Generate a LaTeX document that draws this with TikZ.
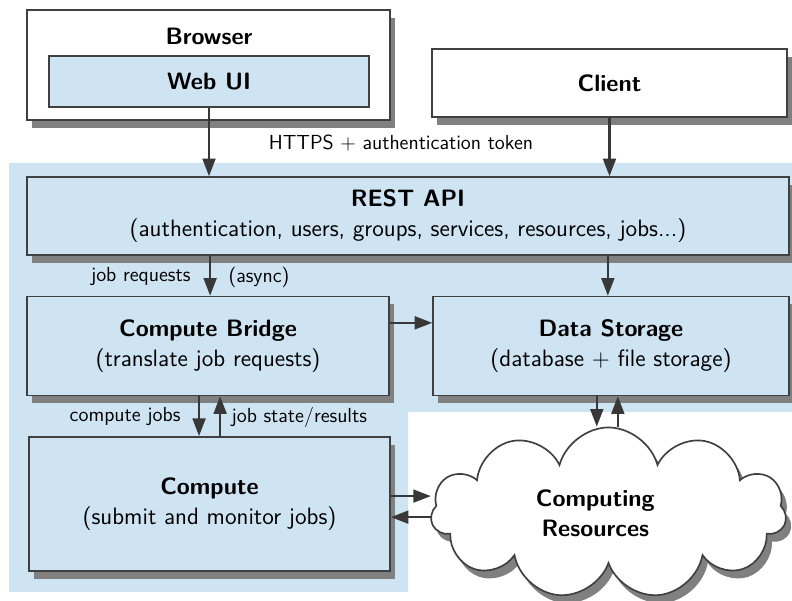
\documentclass[tikz,border=0pt]{standalone}
\usepackage{tikz}
\usetikzlibrary{arrows.meta,shapes.symbols,shadows}
\definecolor{boxblue}{RGB}{207,228,242}
\definecolor{edge}{RGB}{64,64,64}
\definecolor{shade}{RGB}{128,128,128}
\definecolor{arrowgray}{RGB}{56,56,56}

\begin{document}
\begin{tikzpicture}[x=0.019cm,y=-0.019cm,font=\sffamily,
  box/.style={draw=edge,line width=0.9pt,fill=boxblue,align=center,font=\sffamily\fontsize{12.8}{16.2}\selectfont},
  shadowed/.style={drop shadow={shadow xshift=0.1cm,shadow yshift=-0.15cm,fill=shade,opacity=1}},
  arr/.style={draw=arrowgray,line width=1.1pt,-{Triangle[length=9.5pt,width=7pt]}},
  lbl/.style={font=\sffamily\fontsize{11}{13}\selectfont}]
\useasboundingbox (0,0) rectangle (792,601);
% blue backdrop behind the server side
\fill[boxblue] (9,163) -- (792,163) -- (792,412) -- (408,412) -- (408,592) -- (9,592) -- cycle;
% clients
\node[box,fill=white,shadowed,minimum width=6.90cm,minimum height=2.09cm] (browser) at (208.5,65) {};
\node[font=\sffamily\fontsize{12.8}{16.2}\selectfont\bfseries] (browsertitle) at (209,36) {Browser};
\node[box,minimum width=6.08cm,minimum height=0.97cm] (webui) at (209,81.5) {\textbf{Web UI}};
\node[box,fill=white,shadowed,minimum width=6.745cm,minimum height=1.29cm] (client) at (609.5,83) {\textbf{Client}};
% server
\node[box,shadowed,minimum width=14.48cm,minimum height=1.48cm] (rest) at (408,216)
  {\textbf{REST API}\\(authentication, users, groups, services, resources, jobs...)};
\node[box,shadowed,minimum width=6.88cm,minimum height=1.88cm] (bridge) at (208,346)
  {\textbf{Compute Bridge}\\(translate job requests)};
\node[box,shadowed,minimum width=6.76cm,minimum height=1.88cm] (data) at (611,346)
  {\textbf{Data Storage}\\(database + file storage)};
\node[box,shadowed,minimum width=6.86cm,minimum height=2.55cm] (compute) at (209.5,504)
  {\textbf{Compute}\\(submit and monitor jobs)};
\node[cloud,cloud puffs=11,aspect=2.1,draw=edge,line width=0.9pt,fill=white,shadowed,
  minimum width=6.75cm,minimum height=3.25cm,align=center,
  font=\sffamily\fontsize{12.8}{16.2}\selectfont\bfseries] (cloud) at (608.5,513)
  {Computing\hspace*{0.5cm}\\Resources\hspace*{0.5cm}};
% connectors
\draw[arr] (webui.south) -- (webui.south |- rest.north);
\draw[arr] (client.south) -- (client.south |- rest.north);
\node[lbl] (https) at (401,143) {HTTPS + authentication token};
\draw[arr] ([xshift=0.04cm]bridge.north |- rest.south) -- ([xshift=0.04cm]bridge.north);
\node[lbl,anchor=east] (jobreq) at (197,277) {job requests};
\node[lbl,anchor=west] (async) at (222,277) {(async)};
\draw[arr] ([xshift=-0.06cm]data.north |- rest.south) -- ([xshift=-0.06cm]data.north);
\draw[arr] ([yshift=0.44cm]bridge.east) -- ([yshift=0.44cm]bridge.east -| data.west);
\draw[arr] ([xshift=-0.17cm]bridge.south) -- ([xshift=-0.17cm]bridge.south |- compute.north);
\draw[arr] ([xshift=0.23cm]bridge.south |- compute.north) -- ([xshift=0.23cm]bridge.south);
\node[lbl,anchor=east] (cjobs) at (187,417) {compute jobs};
\node[lbl,anchor=west] (jstate) at (225,417) {job state/results};
\draw[arr] ([yshift=0.15cm]compute.east) -- ([yshift=0.15cm]compute.east -| cloud.west);
\draw[arr] ([yshift=-0.25cm]compute.east -| cloud.west) -- ([yshift=-0.25cm]compute.east);
\draw[arr] ([xshift=-0.27cm]data.south) -- ([xshift=-0.27cm]data.south |- cloud.north);
\draw[arr] ([xshift=0.13cm]data.south |- cloud.north) -- ([xshift=0.13cm]data.south);
\end{tikzpicture}
\end{document}
